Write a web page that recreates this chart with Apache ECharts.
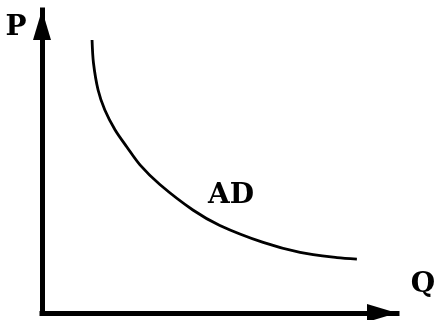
<!DOCTYPE html>
<html>
<head>
<meta charset="utf-8">
<script src="https://cdn.jsdelivr.net/npm/echarts@6/dist/echarts.min.js"></script>
<style>
  html, body { margin: 0; padding: 0; background: #fff; }
  #chart { width: 434px; height: 320px; }
</style>
</head>
<body>
<div id="chart"></div>
<script>
// Aggregate demand curve: quantity (Q) against price level (P)
const quantity = [14.1, 14.5, 15.8, 17.7, 20.6, 23.9, 27.6, 33.2, 42.5, 50.1, 62.3, 72.7, 83.1, 88.7];
const price    = [90.1, 82.5, 73.6, 67.0, 60.4, 54.8, 48.9, 42.4, 34.0, 28.9, 23.3, 20.0, 18.3, 17.8];
const axisNames = ['Q', 'P'];
const curveName = 'AD';

const labelStyle = {
  fontFamily: 'DejaVu Serif',
  fontWeight: 'bold',
  fontSize: 28,
  fill: '#000',
  align: 'center',
  verticalAlign: 'middle'
};

const chart = echarts.init(document.getElementById('chart'), null, { renderer: 'canvas' });

const axisCommon = {
  type: 'value',
  min: 0,
  max: 100,
  axisLine: {
    show: true,
    onZero: false,
    symbol: ['none', 'triangle'],
    symbolSize: [18, 30],
    symbolOffset: [0, -15],
    lineStyle: { color: '#000', width: 5, cap: 'square' }
  },
  axisTick: { show: false },
  axisLabel: { show: false },
  splitLine: { show: false }
};

chart.setOption({
  animation: false,
  backgroundColor: '#fff',
  grid: { left: 42, right: 37, top: 10, bottom: 7 },
  xAxis: axisCommon,
  yAxis: axisCommon,
  series: [{
    type: 'line',
    name: curveName,
    data: quantity.map((q, i) => [q, price[i]]),
    smooth: 0.3,
    symbol: 'none',
    lineStyle: { color: '#000', width: 2.8 }
  }],
  graphic: [
    { type: 'text', style: Object.assign({ x: 16, y: 28, text: axisNames[1] }, labelStyle) },
    { type: 'text', style: Object.assign({ x: 423, y: 285, text: axisNames[0] }, labelStyle) },
    { type: 'text', style: Object.assign({ x: 231, y: 196, text: curveName }, labelStyle) }
  ]
});
</script>
</body>
</html>
